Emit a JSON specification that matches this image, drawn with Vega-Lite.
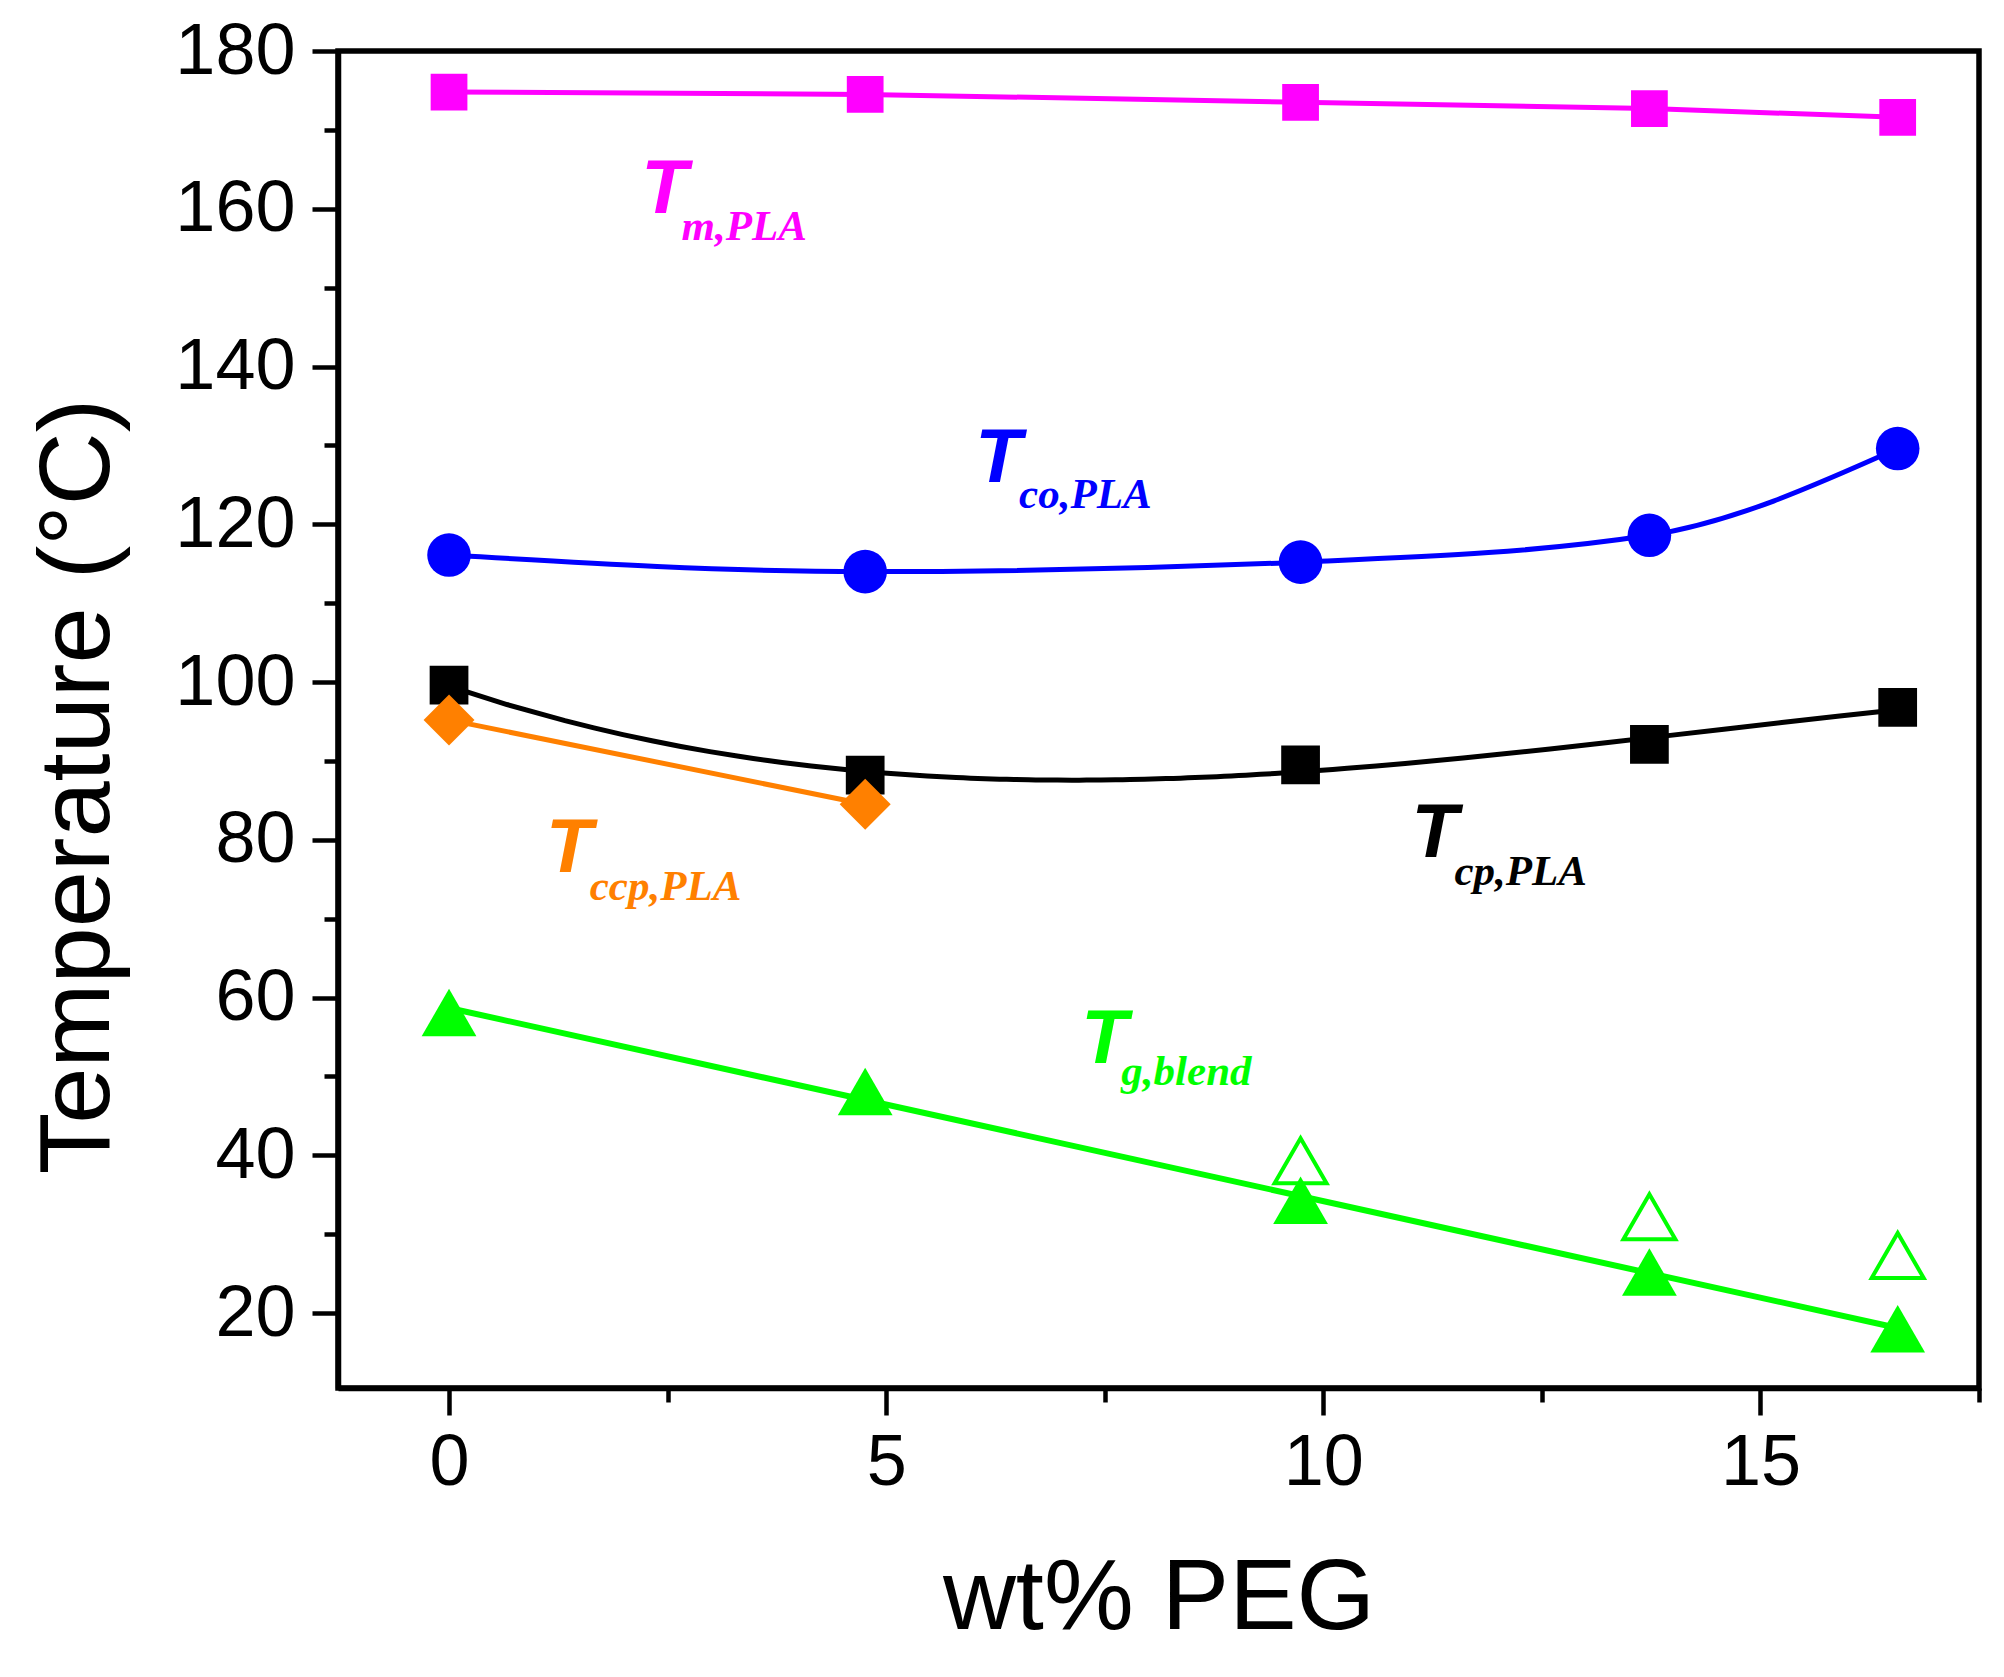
{
  "$schema": "https://vega.github.io/schema/vega-lite/v6.json",
  "width": 1641,
  "height": 1337,
  "autosize": {"type": "none"},
  "padding": {"left": 338, "top": 51, "right": 25, "bottom": 289},
  "background": "white",
  "datasets": {
    "temps": [
      {"series": "Tm", "kind": "filled", "x": 0, "T": 174.8},
      {"series": "Tm", "kind": "filled", "x": 4.76, "T": 174.5},
      {"series": "Tm", "kind": "filled", "x": 9.74, "T": 173.5},
      {"series": "Tm", "kind": "filled", "x": 13.73, "T": 172.7},
      {"series": "Tm", "kind": "filled", "x": 16.57, "T": 171.6},
      {"series": "Tco", "kind": "filled", "x": 0, "T": 116.1},
      {"series": "Tco", "kind": "filled", "x": 4.76, "T": 114.0},
      {"series": "Tco", "kind": "filled", "x": 9.74, "T": 115.2},
      {"series": "Tco", "kind": "filled", "x": 13.73, "T": 118.6},
      {"series": "Tco", "kind": "filled", "x": 16.57, "T": 129.6},
      {"series": "Tcp", "kind": "filled", "x": 0, "T": 99.6},
      {"series": "Tcp", "kind": "filled", "x": 4.76, "T": 88.2},
      {"series": "Tcp", "kind": "filled", "x": 9.74, "T": 89.5},
      {"series": "Tcp", "kind": "filled", "x": 13.73, "T": 92.1},
      {"series": "Tcp", "kind": "filled", "x": 16.57, "T": 96.8},
      {"series": "Tccp", "kind": "filled", "x": 0, "T": 95.2},
      {"series": "Tccp", "kind": "filled", "x": 4.76, "T": 84.5},
      {"series": "Tg", "kind": "filled", "x": 0, "T": 58.1},
      {"series": "Tg", "kind": "filled", "x": 4.76, "T": 48.1},
      {"series": "Tg", "kind": "filled", "x": 9.74, "T": 34.3},
      {"series": "Tg", "kind": "filled", "x": 13.73, "T": 25.2},
      {"series": "Tg", "kind": "filled", "x": 16.57, "T": 18.0},
      {"series": "Tg", "kind": "open", "x": 9.74, "T": 39.3},
      {"series": "Tg", "kind": "open", "x": 13.73, "T": 32.2},
      {"series": "Tg", "kind": "open", "x": 16.57, "T": 27.3}
    ],
    "labels": [
      {"series": "Tm", "x": 2.2, "y": 159.5, "main": "T", "sub": "m,PLA", "sx": 2.66, "sy": 156.1},
      {"series": "Tco", "x": 6.02, "y": 125.3, "main": "T", "sub": "co,PLA", "sx": 6.52, "sy": 122.1},
      {"series": "Tccp", "x": 1.11, "y": 75.9, "main": "T", "sub": "ccp,PLA", "sx": 1.61, "sy": 72.4},
      {"series": "Tcp", "x": 11.01, "y": 77.8, "main": "T", "sub": "cp,PLA", "sx": 11.5, "sy": 74.3},
      {"series": "Tg", "x": 7.23, "y": 51.7, "main": "T", "sub": "g,blend", "sx": 7.69, "sy": 48.9}
    ]
  },
  "encoding": {
    "x": {
      "field": "x",
      "type": "quantitative",
      "title": "wt% PEG",
      "scale": {"domain": [-1.27, 17.5], "nice": false, "zero": false},
      "axis": {
        "values": [0, 2.5, 5, 7.5, 10, 12.5, 15, 17.5],
        "labelExpr": "datum.value % 5 === 0 ? datum.label : ''",
        "tickSize": {"condition": {"test": "datum.value % 5 === 0", "value": 27}, "value": 14},
        "labelPadding": 12,
        "titlePadding": 50
      }
    },
    "y": {
      "field": "T",
      "type": "quantitative",
      "title": "Temperature (°C)",
      "scale": {"domain": [10.5, 180], "nice": false, "zero": false},
      "axis": {
        "values": [20, 30, 40, 50, 60, 70, 80, 90, 100, 110, 120, 130, 140, 150, 160, 170, 180],
        "labelExpr": "datum.value % 20 === 0 ? datum.label : ''",
        "tickSize": {"condition": {"test": "datum.value % 20 === 0", "value": 26}, "value": 14},
        "labelPadding": 17,
        "titlePadding": 45,
        "titleY": 735
      }
    },
    "color": {
      "field": "series",
      "type": "nominal",
      "legend": null,
      "scale": {
        "domain": ["Tm", "Tco", "Tcp", "Tccp", "Tg"],
        "range": ["#ff00ff", "#0000ff", "#000000", "#ff8000", "#00ff00"]
      }
    }
  },
  "layer": [
    {
      "data": {"name": "temps"},
      "transform": [{"filter": "datum.series === 'Tm'"}],
      "mark": {"type": "line", "strokeWidth": 5}
    },
    {
      "data": {"name": "temps"},
      "transform": [{"filter": "datum.series === 'Tco'"}],
      "mark": {"type": "line", "strokeWidth": 5, "interpolate": "monotone"}
    },
    {
      "data": {"name": "temps"},
      "transform": [
        {"filter": "datum.series === 'Tcp'"},
        {"regression": "T", "on": "x", "method": "poly", "order": 3, "groupby": ["series"]}
      ],
      "mark": {"type": "line", "strokeWidth": 5}
    },
    {
      "data": {"name": "temps"},
      "transform": [{"filter": "datum.series === 'Tccp'"}],
      "mark": {"type": "line", "strokeWidth": 5}
    },
    {
      "data": {"name": "temps"},
      "transform": [
        {"filter": "datum.series === 'Tg' && datum.kind === 'filled'"},
        {"regression": "T", "on": "x", "groupby": ["series"]}
      ],
      "mark": {"type": "line", "strokeWidth": 6}
    },
    {
      "data": {"name": "temps"},
      "transform": [{"filter": "datum.series === 'Tm'"}],
      "mark": {"type": "point", "shape": "square", "filled": true, "opacity": 1, "size": 1350}
    },
    {
      "data": {"name": "temps"},
      "transform": [{"filter": "datum.series === 'Tcp'"}],
      "mark": {"type": "point", "shape": "square", "filled": true, "opacity": 1, "size": 1500}
    },
    {
      "data": {"name": "temps"},
      "transform": [{"filter": "datum.series === 'Tco'"}],
      "mark": {"type": "point", "shape": "circle", "filled": true, "opacity": 1, "size": 1900}
    },
    {
      "data": {"name": "temps"},
      "transform": [{"filter": "datum.series === 'Tccp'"}],
      "mark": {"type": "point", "shape": "diamond", "filled": true, "opacity": 1, "size": 2600}
    },
    {
      "data": {"name": "temps"},
      "transform": [{"filter": "datum.series === 'Tg' && datum.kind === 'filled'"}],
      "mark": {"type": "point", "shape": "triangle-up", "filled": true, "opacity": 1, "size": 3000}
    },
    {
      "data": {"name": "temps"},
      "transform": [{"filter": "datum.kind === 'open'"}],
      "mark": {"type": "point", "shape": "triangle-up", "filled": false, "size": 2700, "strokeWidth": 4, "opacity": 1}
    },
    {
      "data": {"name": "labels"},
      "mark": {"type": "text", "align": "left", "baseline": "alphabetic", "font": "Liberation Sans", "fontSize": 76, "fontWeight": "bold", "fontStyle": "italic"},
      "encoding": {
        "x": {"field": "x", "type": "quantitative"},
        "y": {"field": "y", "type": "quantitative"},
        "text": {"field": "main"}
      }
    },
    {
      "data": {"name": "labels"},
      "mark": {"type": "text", "align": "left", "baseline": "alphabetic", "font": "Liberation Serif", "fontSize": 43, "fontWeight": "bold", "fontStyle": "italic"},
      "encoding": {
        "x": {"field": "sx", "type": "quantitative"},
        "y": {"field": "sy", "type": "quantitative"},
        "text": {"field": "sub"}
      }
    }
  ],
  "config": {
    "view": {"stroke": "#000000", "strokeWidth": 5.5},
    "axis": {
      "grid": false,
      "domainColor": "#000000",
      "domainWidth": 5.5,
      "tickColor": "#000000",
      "tickWidth": 4.5,
      "labelFont": "Liberation Sans",
      "labelFontSize": 72,
      "labelColor": "#000000",
      "labelOverlap": false,
      "labelFlush": false,
      "titleFont": "Liberation Sans",
      "titleFontSize": 101,
      "titleFontWeight": "normal",
      "titleColor": "#000000"
    }
  }
}
